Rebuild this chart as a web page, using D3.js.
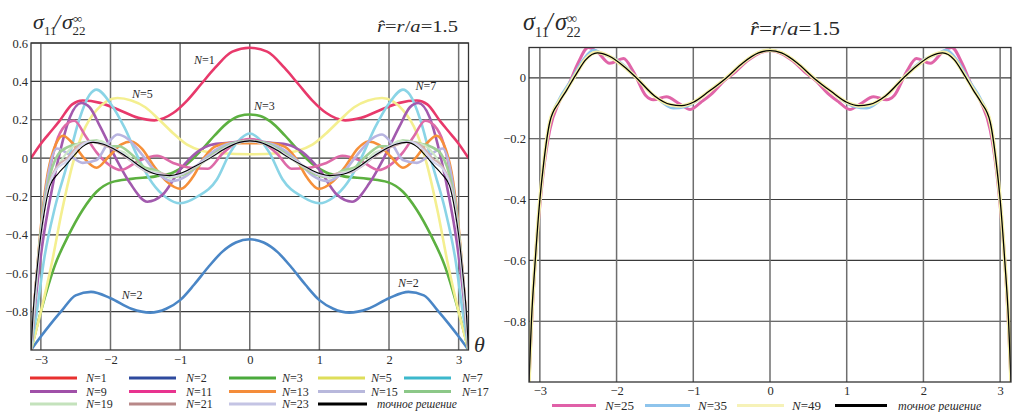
<!DOCTYPE html>
<html>
<head>
<meta charset="utf-8">
<script src="https://cdn.jsdelivr.net/npm/d3@7"></script>
<style>
body { margin: 0; background: #fff; }
text { font-family: "Liberation Serif", "DejaVu Serif", serif; fill: #2a2a2a; }
</style>
</head>
<body>
<svg id="chart" width="1013" height="412"></svg>
<script>
// ---- data (theta, sigma11/sigma22) ----
var xTicks = [-3, -2, -1, 0, 1, 2, 3];
var yTicksLeft = [-0.8, -0.6, -0.4, -0.2, 0, 0.2, 0.4, 0.6];
var yTicksRight = [-0.8, -0.6, -0.4, -0.2, 0];

var n1 = [[-3.1416,0],[-3.0,0.075],[-2.9,0.12],[-2.74,0.19],[-2.55,0.28],[-2.4,0.3],[-2.15,0.288],[-1.9,0.255],[-1.6,0.21],[-1.37,0.197],[-1.1,0.235],[-0.9,0.3],[-0.7,0.385],[-0.5,0.47],[-0.25,0.555],[0,0.575],[0.25,0.555],[0.5,0.47],[0.7,0.385],[0.9,0.3],[1.1,0.235],[1.37,0.197],[1.6,0.21],[1.9,0.255],[2.15,0.288],[2.4,0.3],[2.55,0.28],[2.74,0.19],[2.9,0.12],[3.0,0.075],[3.1416,0]];
var n2 = [[-3.1416,-1],[-3.0,-0.93],[-2.85,-0.86],[-2.7,-0.795],[-2.5,-0.715],[-2.28,-0.697],[-2.0,-0.73],[-1.7,-0.785],[-1.43,-0.805],[-1.2,-0.785],[-1.0,-0.74],[-0.8,-0.66],[-0.6,-0.57],[-0.4,-0.49],[-0.2,-0.44],[0,-0.423],[0.2,-0.44],[0.4,-0.49],[0.6,-0.57],[0.8,-0.66],[1.0,-0.74],[1.2,-0.785],[1.43,-0.805],[1.7,-0.785],[2.0,-0.73],[2.28,-0.697],[2.5,-0.715],[2.7,-0.795],[2.85,-0.86],[3.0,-0.93],[3.1416,-1]];
var n3 = [[-3.1416,-1],[-3.0,-0.8],[-2.8,-0.56],[-2.6,-0.4],[-2.4,-0.27],[-2.2,-0.175],[-1.98,-0.125],[-1.7,-0.108],[-1.35,-0.095],[-1.1,-0.075],[-0.9,-0.03],[-0.7,0.04],[-0.5,0.12],[-0.3,0.19],[-0.15,0.22],[0,0.227],[0.15,0.22],[0.3,0.19],[0.5,0.12],[0.7,0.04],[0.9,-0.03],[1.1,-0.075],[1.35,-0.095],[1.7,-0.108],[1.98,-0.125],[2.2,-0.175],[2.4,-0.27],[2.6,-0.4],[2.8,-0.56],[3.0,-0.8],[3.1416,-1]];
var n5 = [[-3.1416,-1],[-3.0,-0.8],[-2.85,-0.56],[-2.7,-0.28],[-2.55,-0.04],[-2.4,0.13],[-2.2,0.25],[-1.9,0.313],[-1.7,0.3],[-1.5,0.265],[-1.3,0.2],[-1.1,0.13],[-0.9,0.07],[-0.7,0.04],[-0.4,0.025],[0,0.02],[0.4,0.025],[0.7,0.04],[0.9,0.07],[1.1,0.13],[1.3,0.2],[1.5,0.265],[1.7,0.3],[1.9,0.313],[2.2,0.25],[2.4,0.13],[2.55,-0.04],[2.7,-0.28],[2.85,-0.56],[3.0,-0.8],[3.1416,-1]];
var n7 = [[-3.1416,-1],[-3.05,-0.78],[-2.95,-0.52],[-2.8,-0.26],[-2.62,-0.03],[-2.45,0.2],[-2.3,0.33],[-2.2,0.357],[-2.0,0.285],[-1.8,0.16],[-1.6,0.0],[-1.4,-0.13],[-1.2,-0.205],[-1.0,-0.235],[-0.75,-0.2],[-0.47,-0.11],[-0.28,0.03],[-0.12,0.105],[0,0.128],[0.12,0.105],[0.28,0.03],[0.47,-0.11],[0.75,-0.2],[1.0,-0.235],[1.2,-0.205],[1.4,-0.13],[1.6,0.0],[1.8,0.16],[2.0,0.285],[2.2,0.357],[2.3,0.33],[2.45,0.2],[2.62,-0.03],[2.8,-0.26],[2.95,-0.52],[3.05,-0.78],[3.1416,-1]];
var n9 = [[-3.1416,-1],[-3.07,-0.72],[-2.97,-0.43],[-2.85,-0.18],[-2.72,0.04],[-2.58,0.215],[-2.42,0.287],[-2.3,0.265],[-2.15,0.165],[-1.91,-0.01],[-1.72,-0.13],[-1.47,-0.227],[-1.25,-0.19],[-1.0,-0.06],[-0.76,0.03],[-0.55,0.07],[-0.3,0.08],[-0.15,0.087],[0,0.095],[0.15,0.087],[0.3,0.08],[0.55,0.07],[0.76,0.03],[1.0,-0.06],[1.25,-0.19],[1.47,-0.227],[1.72,-0.13],[1.91,-0.01],[2.15,0.165],[2.3,0.265],[2.42,0.287],[2.58,0.215],[2.72,0.04],[2.85,-0.18],[2.97,-0.43],[3.07,-0.72],[3.1416,-1]];
var n11 = [[-3.1416,-1],[-3.08,-0.7],[-3.0,-0.4],[-2.9,-0.12],[-2.78,0.08],[-2.65,0.17],[-2.52,0.195],[-2.35,0.11],[-2.2,0.03],[-2.0,-0.04],[-1.85,-0.062],[-1.6,-0.015],[-1.33,0.012],[-1.1,-0.025],[-0.85,-0.05],[-0.6,-0.055],[-0.4,0.02],[-0.2,0.08],[0,0.1],[0.2,0.08],[0.4,0.02],[0.6,-0.055],[0.85,-0.05],[1.1,-0.025],[1.33,0.012],[1.6,-0.015],[1.85,-0.062],[2.0,-0.04],[2.2,0.03],[2.35,0.11],[2.52,0.195],[2.65,0.17],[2.78,0.08],[2.9,-0.12],[3.0,-0.4],[3.08,-0.7],[3.1416,-1]];
var n13 = [[-3.1416,-1],[-3.08,-0.7],[-3.0,-0.36],[-2.92,-0.12],[-2.82,0.04],[-2.68,0.117],[-2.55,0.08],[-2.38,0.0],[-2.2,-0.05],[-2.02,0.01],[-1.85,0.07],[-1.7,0.087],[-1.55,0.05],[-1.38,-0.04],[-1.2,-0.12],[-0.99,-0.16],[-0.82,-0.1],[-0.66,0.0],[-0.5,0.06],[-0.3,0.078],[0,0.078],[0.3,0.078],[0.5,0.06],[0.66,0.0],[0.82,-0.1],[0.99,-0.16],[1.2,-0.12],[1.38,-0.04],[1.55,0.05],[1.7,0.087],[1.85,0.07],[2.02,0.01],[2.2,-0.05],[2.38,0.0],[2.55,0.08],[2.68,0.117],[2.82,0.04],[2.92,-0.12],[3.0,-0.36],[3.08,-0.7],[3.1416,-1]];
var n15 = [[-3.1416,-1],[-3.08,-0.72],[-3.0,-0.38],[-2.9,-0.1],[-2.77,0.05],[-2.6,0.02],[-2.4,-0.025],[-2.2,-0.01],[-2.05,0.07],[-1.9,0.123],[-1.75,0.1],[-1.55,0.02],[-1.35,-0.07],[-1.12,-0.12],[-0.9,-0.09],[-0.7,-0.02],[-0.5,0.04],[-0.3,0.075],[0,0.09],[0.3,0.075],[0.5,0.04],[0.7,-0.02],[0.9,-0.09],[1.12,-0.12],[1.35,-0.07],[1.55,0.02],[1.75,0.1],[1.9,0.123],[2.05,0.07],[2.2,-0.01],[2.4,-0.025],[2.6,0.02],[2.77,0.05],[2.9,-0.1],[3.0,-0.38],[3.08,-0.72],[3.1416,-1]];
var n17 = [[-3.1416,-1],[-3.07,-0.66],[-3.0,-0.38],[-2.9,-0.14],[-2.75,0.02],[-2.6,0.06],[-2.45,0.075],[-2.2,0.092],[-2.02,0.06],[-1.88,0.062],[-1.7,0.02],[-1.5,-0.05],[-1.33,-0.065],[-1.15,-0.1],[-0.95,-0.085],[-0.8,-0.055],[-0.6,0.0],[-0.35,0.06],[0,0.09],[0.35,0.06],[0.6,0.0],[0.8,-0.055],[0.95,-0.085],[1.15,-0.1],[1.33,-0.065],[1.5,-0.05],[1.7,0.02],[1.88,0.062],[2.02,0.06],[2.2,0.092],[2.45,0.075],[2.6,0.06],[2.75,0.02],[2.9,-0.14],[3.0,-0.38],[3.07,-0.66],[3.1416,-1]];
var n19 = [[-3.1416,-1],[-3.07,-0.64],[-3.0,-0.39],[-2.9,-0.17],[-2.75,-0.04],[-2.6,0.04],[-2.45,0.075],[-2.3,0.08],[-2.15,0.09],[-1.95,0.045],[-1.8,0.03],[-1.6,-0.04],[-1.45,-0.065],[-1.3,-0.075],[-1.12,-0.1],[-0.95,-0.08],[-0.75,-0.04],[-0.55,0.005],[-0.3,0.06],[0,0.088],[0.3,0.06],[0.55,0.005],[0.75,-0.04],[0.95,-0.08],[1.12,-0.1],[1.3,-0.075],[1.45,-0.065],[1.6,-0.04],[1.8,0.03],[1.95,0.045],[2.15,0.09],[2.3,0.08],[2.45,0.075],[2.6,0.04],[2.75,-0.04],[2.9,-0.17],[3.0,-0.39],[3.07,-0.64],[3.1416,-1]];
var n21 = [[-3.1416,-1],[-3.08,-0.68],[-3.0,-0.4],[-2.9,-0.16],[-2.78,-0.05],[-2.62,0.0],[-2.48,0.06],[-2.3,0.085],[-2.12,0.07],[-1.98,0.05],[-1.8,0.01],[-1.62,-0.04],[-1.45,-0.075],[-1.25,-0.08],[-1.1,-0.095],[-0.9,-0.07],[-0.72,-0.03],[-0.5,0.02],[-0.28,0.065],[0,0.09],[0.28,0.065],[0.5,0.02],[0.72,-0.03],[0.9,-0.07],[1.1,-0.095],[1.25,-0.08],[1.45,-0.075],[1.62,-0.04],[1.8,0.01],[1.98,0.05],[2.12,0.07],[2.3,0.085],[2.48,0.06],[2.62,0.0],[2.78,-0.05],[2.9,-0.16],[3.0,-0.4],[3.08,-0.68],[3.1416,-1]];
var n23 = [[-3.1416,-1],[-3.08,-0.7],[-3.0,-0.41],[-2.9,-0.17],[-2.78,-0.06],[-2.64,-0.02],[-2.5,0.04],[-2.32,0.085],[-2.16,0.08],[-2.0,0.06],[-1.85,0.03],[-1.68,-0.02],[-1.5,-0.065],[-1.32,-0.08],[-1.14,-0.095],[-0.96,-0.08],[-0.78,-0.04],[-0.56,0.005],[-0.32,0.06],[0,0.088],[0.32,0.06],[0.56,0.005],[0.78,-0.04],[0.96,-0.08],[1.14,-0.095],[1.32,-0.08],[1.5,-0.065],[1.68,-0.02],[1.85,0.03],[2.0,0.06],[2.16,0.08],[2.32,0.085],[2.5,0.04],[2.64,-0.02],[2.78,-0.06],[2.9,-0.17],[3.0,-0.41],[3.08,-0.7],[3.1416,-1]];
var exact = [[-3.1416,-1],[-3.11,-0.8],[-3.06,-0.6],[-3.0,-0.4],[-2.95,-0.28],[-2.87,-0.145],[-2.75,-0.08],[-2.65,-0.04],[-2.52,0.015],[-2.4,0.06],[-2.25,0.082],[-2.1,0.072],[-1.9,0.037],[-1.74,0.0],[-1.5,-0.06],[-1.3,-0.087],[-1.15,-0.091],[-1.0,-0.08],[-0.8,-0.045],[-0.57,0.0],[-0.35,0.05],[-0.15,0.082],[0,0.09],[0.15,0.082],[0.35,0.05],[0.57,0.0],[0.8,-0.045],[1.0,-0.08],[1.15,-0.091],[1.3,-0.087],[1.5,-0.06],[1.74,0.0],[1.9,0.037],[2.1,0.072],[2.25,0.082],[2.4,0.06],[2.52,0.015],[2.65,-0.04],[2.75,-0.08],[2.87,-0.145],[2.95,-0.28],[3.0,-0.4],[3.06,-0.6],[3.11,-0.8],[3.1416,-1]];
var n25 = [[-3.1416,-1],[-3.11,-0.82],[-3.06,-0.6],[-3.0,-0.42],[-2.95,-0.3],[-2.87,-0.17],[-2.75,-0.08],[-2.62,-0.02],[-2.5,0.05],[-2.37,0.1],[-2.25,0.085],[-2.09,0.048],[-1.91,0.064],[-1.78,0.02],[-1.62,-0.058],[-1.52,-0.072],[-1.35,-0.062],[-1.18,-0.085],[-1.04,-0.104],[-0.9,-0.08],[-0.75,-0.05],[-0.6,-0.01],[-0.45,0.02],[-0.3,0.055],[-0.15,0.08],[0,0.09],[0.15,0.08],[0.3,0.055],[0.45,0.02],[0.6,-0.01],[0.75,-0.05],[0.9,-0.08],[1.04,-0.104],[1.18,-0.085],[1.35,-0.062],[1.52,-0.072],[1.62,-0.058],[1.78,0.02],[1.91,0.064],[2.09,0.048],[2.25,0.085],[2.37,0.1],[2.5,0.05],[2.62,-0.02],[2.75,-0.08],[2.87,-0.17],[2.95,-0.3],[3.0,-0.42],[3.06,-0.6],[3.11,-0.82],[3.1416,-1]];
var n35 = [[-3.1416,-1],[-3.11,-0.8],[-3.06,-0.6],[-3.0,-0.41],[-2.95,-0.29],[-2.87,-0.15],[-2.75,-0.07],[-2.6,-0.01],[-2.45,0.055],[-2.3,0.092],[-2.15,0.075],[-2.0,0.06],[-1.85,0.03],[-1.7,-0.01],[-1.5,-0.06],[-1.26,-0.1],[-1.1,-0.095],[-0.95,-0.075],[-0.8,-0.045],[-0.57,0.0],[-0.35,0.05],[-0.15,0.083],[0,0.092],[0.15,0.083],[0.35,0.05],[0.57,0.0],[0.8,-0.045],[0.95,-0.075],[1.1,-0.095],[1.26,-0.1],[1.5,-0.06],[1.7,-0.01],[1.85,0.03],[2.0,0.06],[2.15,0.075],[2.3,0.092],[2.45,0.055],[2.6,-0.01],[2.75,-0.07],[2.87,-0.15],[2.95,-0.29],[3.0,-0.41],[3.06,-0.6],[3.11,-0.8],[3.1416,-1]];
var n49 = [[-3.1416,-1],[-3.11,-0.8],[-3.06,-0.6],[-3.0,-0.4],[-2.95,-0.28],[-2.87,-0.145],[-2.75,-0.078],[-2.65,-0.038],[-2.52,0.016],[-2.4,0.062],[-2.26,0.084],[-2.1,0.072],[-1.9,0.036],[-1.74,0.0],[-1.5,-0.061],[-1.3,-0.088],[-1.15,-0.092],[-1.0,-0.08],[-0.8,-0.045],[-0.57,0.0],[-0.35,0.05],[-0.15,0.083],[0,0.091],[0.15,0.083],[0.35,0.05],[0.57,0.0],[0.8,-0.045],[1.0,-0.08],[1.15,-0.092],[1.3,-0.088],[1.5,-0.061],[1.74,0.0],[1.9,0.036],[2.1,0.072],[2.26,0.084],[2.4,0.062],[2.52,0.016],[2.65,-0.038],[2.75,-0.078],[2.87,-0.145],[2.95,-0.28],[3.0,-0.4],[3.06,-0.6],[3.11,-0.8],[3.1416,-1]];

var leftSeries = [
	{n: "1", d: n1, c: "#e8396b", lc: "#e8302f"},
	{n: "2", d: n2, c: "#4a86c6", lc: "#2e4a9e"},
	{n: "3", d: n3, c: "#5cb040", lc: "#4aaa3c"},
	{n: "5", d: n5, c: "#f4ef90", lc: "#dede5a"},
	{n: "7", d: n7, c: "#8ad4e6", lc: "#3cb8cc"},
	{n: "9", d: n9, c: "#a25aae", lc: "#a050a8"},
	{n: "11", d: n11, c: "#dd6aa8", lc: "#e8338f"},
	{n: "13", d: n13, c: "#f6903a", lc: "#f48c3a"},
	{n: "15", d: n15, c: "#b8b4e0", lc: "#b8b8dc"},
	{n: "17", d: n17, c: "#9fd096", lc: "#8cc888"},
	{n: "19", d: n19, c: "#cde8c6", lc: "#c4e2bc", w: 2},
	{n: "21", d: n21, c: "#d2b0b0", lc: "#b88888", w: 2},
	{n: "23", d: n23, c: "#d4d4ee", lc: "#c4c4e4", w: 2},
	{n: null, d: exact, c: "#000", lc: "#000", w: 1.1}
];
var rightSeries = [
	{n: "25", d: n25, c: "#e065a8", lc: "#e060a8", w: 3},
	{n: "35", d: n35, c: "#8ec4ec", lc: "#8ec4ec", w: 2.4},
	{n: "49", d: n49, c: "#f6f1a8", lc: "#f6f2b8", w: 3.6},
	{n: null, d: exact, c: "#000", lc: "#000", w: 1.3}
];
var curveLabels = [
	{t: "1", x: -0.8, y: 0.49},
	{t: "5", x: -1.69, y: 0.315},
	{t: "3", x: 0.06, y: 0.25},
	{t: "7", x: 2.38, y: 0.355},
	{t: "2", x: -1.84, y: -0.735},
	{t: "2", x: 2.13, y: -0.67}
];

var svg = d3.select("#chart");
var fmtY = function(v) { return v === 0 ? "0" : d3.format(".1f")(v).replace("-", "\u2212"); };
var fmtX = function(v) { return String(v).replace("-", "\u2212"); };

function nText(sel, n, size) {
	sel.attr("font-size", size);
	sel.append("tspan").attr("font-style", "italic").text("N");
	sel.append("tspan").text("=" + n);
}

function title(g, x0, y0, s) {
	var t = g.append("text").attr("x", x0).attr("y", y0).attr("font-size", 22 * s).attr("font-style", "italic");
	t.append("tspan").attr("x", x0).text("\u03c3");
	t.append("tspan").attr("x", x0 + 11 * s).attr("dy", 6 * s).attr("font-size", 13 * s).attr("font-style", "normal").text("11");
	t.append("tspan").attr("x", x0 + 21 * s).attr("dy", -6 * s).text("/");
	t.append("tspan").attr("x", x0 + 29 * s).text("\u03c3");
	t.append("tspan").attr("x", x0 + 39.5 * s).attr("dy", 6 * s).attr("font-size", 13 * s).attr("font-style", "normal").text("22");
	t.append("tspan").attr("x", x0 + 40 * s).attr("dy", -12 * s).attr("font-size", 13 * s).attr("font-style", "normal").text("\u221e");
}

function panel(cfg) {
	var x = d3.scaleLinear().domain([-Math.PI, Math.PI]).range(cfg.xr);
	var y = d3.scaleLinear().domain(cfg.yd).range(cfg.yr);
	var g = svg.append("g");

	g.append("clipPath").attr("id", cfg.id).append("rect")
		.attr("x", cfg.xr[0]).attr("y", cfg.yr[1])
		.attr("width", cfg.xr[1] - cfg.xr[0]).attr("height", cfg.yr[0] - cfg.yr[1]);

	g.selectAll(".hgrid").data(cfg.yt).enter().append("line")
		.attr("x1", cfg.xr[0]).attr("x2", cfg.xr[1])
		.attr("y1", function(d) { return y(d); }).attr("y2", function(d) { return y(d); })
		.attr("stroke", "#3a3a3a").attr("stroke-width", 1.1);
	g.selectAll(".vgrid").data(xTicks).enter().append("line")
		.attr("x1", function(d) { return x(d); }).attr("x2", function(d) { return x(d); })
		.attr("y1", cfg.yr[0]).attr("y2", cfg.yr[1])
		.attr("stroke", "#6e6e6e").attr("stroke-width", 1.5);

	var line = d3.line()
		.x(function(d) { return x(d[0]); })
		.y(function(d) { return y(d[1]); })
		.curve(d3.curveMonotoneX);
	g.append("g").attr("clip-path", "url(#" + cfg.id + ")")
		.selectAll("path").data(cfg.series).enter().append("path")
		.attr("d", function(s) { return line(s.d); })
		.attr("fill", "none")
		.attr("stroke", function(s) { return s.c; })
		.attr("stroke-width", function(s) { return s.w || 2.6; })
		.attr("stroke-linejoin", "round");

	g.append("rect")
		.attr("x", cfg.xr[0]).attr("y", cfg.yr[1])
		.attr("width", cfg.xr[1] - cfg.xr[0]).attr("height", cfg.yr[0] - cfg.yr[1])
		.attr("fill", "none").attr("stroke", "#333").attr("stroke-width", 1.3);

	var ya = g.append("g").attr("transform", "translate(" + cfg.xr[0] + ",0)")
		.call(d3.axisLeft(y).tickValues(cfg.yt).tickSize(0).tickPadding(3).tickFormat(fmtY));
	var xa = g.append("g").attr("transform", "translate(0," + cfg.yr[0] + ")")
		.call(d3.axisBottom(x).tickValues(xTicks).tickSize(0).tickPadding(cfg.xpad).tickFormat(fmtX));
	[ya, xa].forEach(function(a) {
		a.select(".domain").remove();
		a.selectAll("text").attr("font-family", null).attr("font-size", 12.5).attr("fill", "#333");
	});
	return {x: x, y: y, g: g};
}

// left panel
var L = panel({id: "clipL", xr: [31, 468.5], yd: [-1, 0.6], yr: [350, 43], yt: yTicksLeft, xpad: 5, series: leftSeries});
curveLabels.forEach(function(c) {
	L.g.append("text").attr("x", L.x(c.x)).attr("y", L.y(c.y)).call(nText, c.t, 12);
});
L.g.append("text").attr("x", 474).attr("y", 352).attr("font-size", 22).attr("font-style", "italic").text("\u03b8");
title(svg, 33, 29, 1);
svg.append("text").attr("x", 377).attr("y", 32).attr("font-size", 17)
	.attr("textLength", 81).attr("lengthAdjust", "spacingAndGlyphs")
	.html('<tspan font-style="italic">r\u0302</tspan>=<tspan font-style="italic">r</tspan>/<tspan font-style="italic">a</tspan>=1.5');

// right panel
var R = panel({id: "clipR", xr: [529, 1011], yd: [-1, 0.1], yr: [382, 47.5], yt: yTicksRight, xpad: 4, series: rightSeries});
title(svg, 523, 30, 1.1);
svg.append("text").attr("x", 750).attr("y", 35).attr("font-size", 18.5)
	.attr("textLength", 90).attr("lengthAdjust", "spacingAndGlyphs")
	.html('<tspan font-style="italic">r\u0302</tspan>=<tspan font-style="italic">r</tspan>/<tspan font-style="italic">a</tspan>=1.5');

// legends
var legCols = [30, 129, 229, 318, 404];
var legTextCols = [86, 186, 282, 371, 462];
var legRows = [378, 391.5, 404];
var legL = svg.append("g");
leftSeries.forEach(function(s, i) {
	var col = i % 5, row = Math.floor(i / 5);
	var ly = legRows[row];
	legL.append("line").attr("x1", legCols[col]).attr("x2", legCols[col] + (s.n ? 47 : 49))
		.attr("y1", ly).attr("y2", ly).attr("stroke", s.lc).attr("stroke-width", 2.8);
	var t = legL.append("text").attr("x", legTextCols[col]).attr("y", ly + 4);
	if (s.n) t.call(nText, s.n, 12);
	else t.attr("x", 377).attr("font-size", 11.5).attr("font-style", "italic").text("точное решение");
});

var legRX = [552, 645, 737, 835];
var legRLen = [44, 45, 47, 52];
var legRText = [605, 698, 792, 898];
var legR = svg.append("g");
rightSeries.forEach(function(s, i) {
	legR.append("line").attr("x1", legRX[i]).attr("x2", legRX[i] + legRLen[i])
		.attr("y1", 405.5).attr("y2", 405.5).attr("stroke", s.n === null ? "#000" : s.lc).attr("stroke-width", 3);
	var t = legR.append("text").attr("x", legRText[i]).attr("y", 410);
	if (s.n) t.call(nText, s.n, 13);
	else t.attr("font-size", 12).attr("font-style", "italic").text("точное решение");
});
</script>
</body>
</html>
